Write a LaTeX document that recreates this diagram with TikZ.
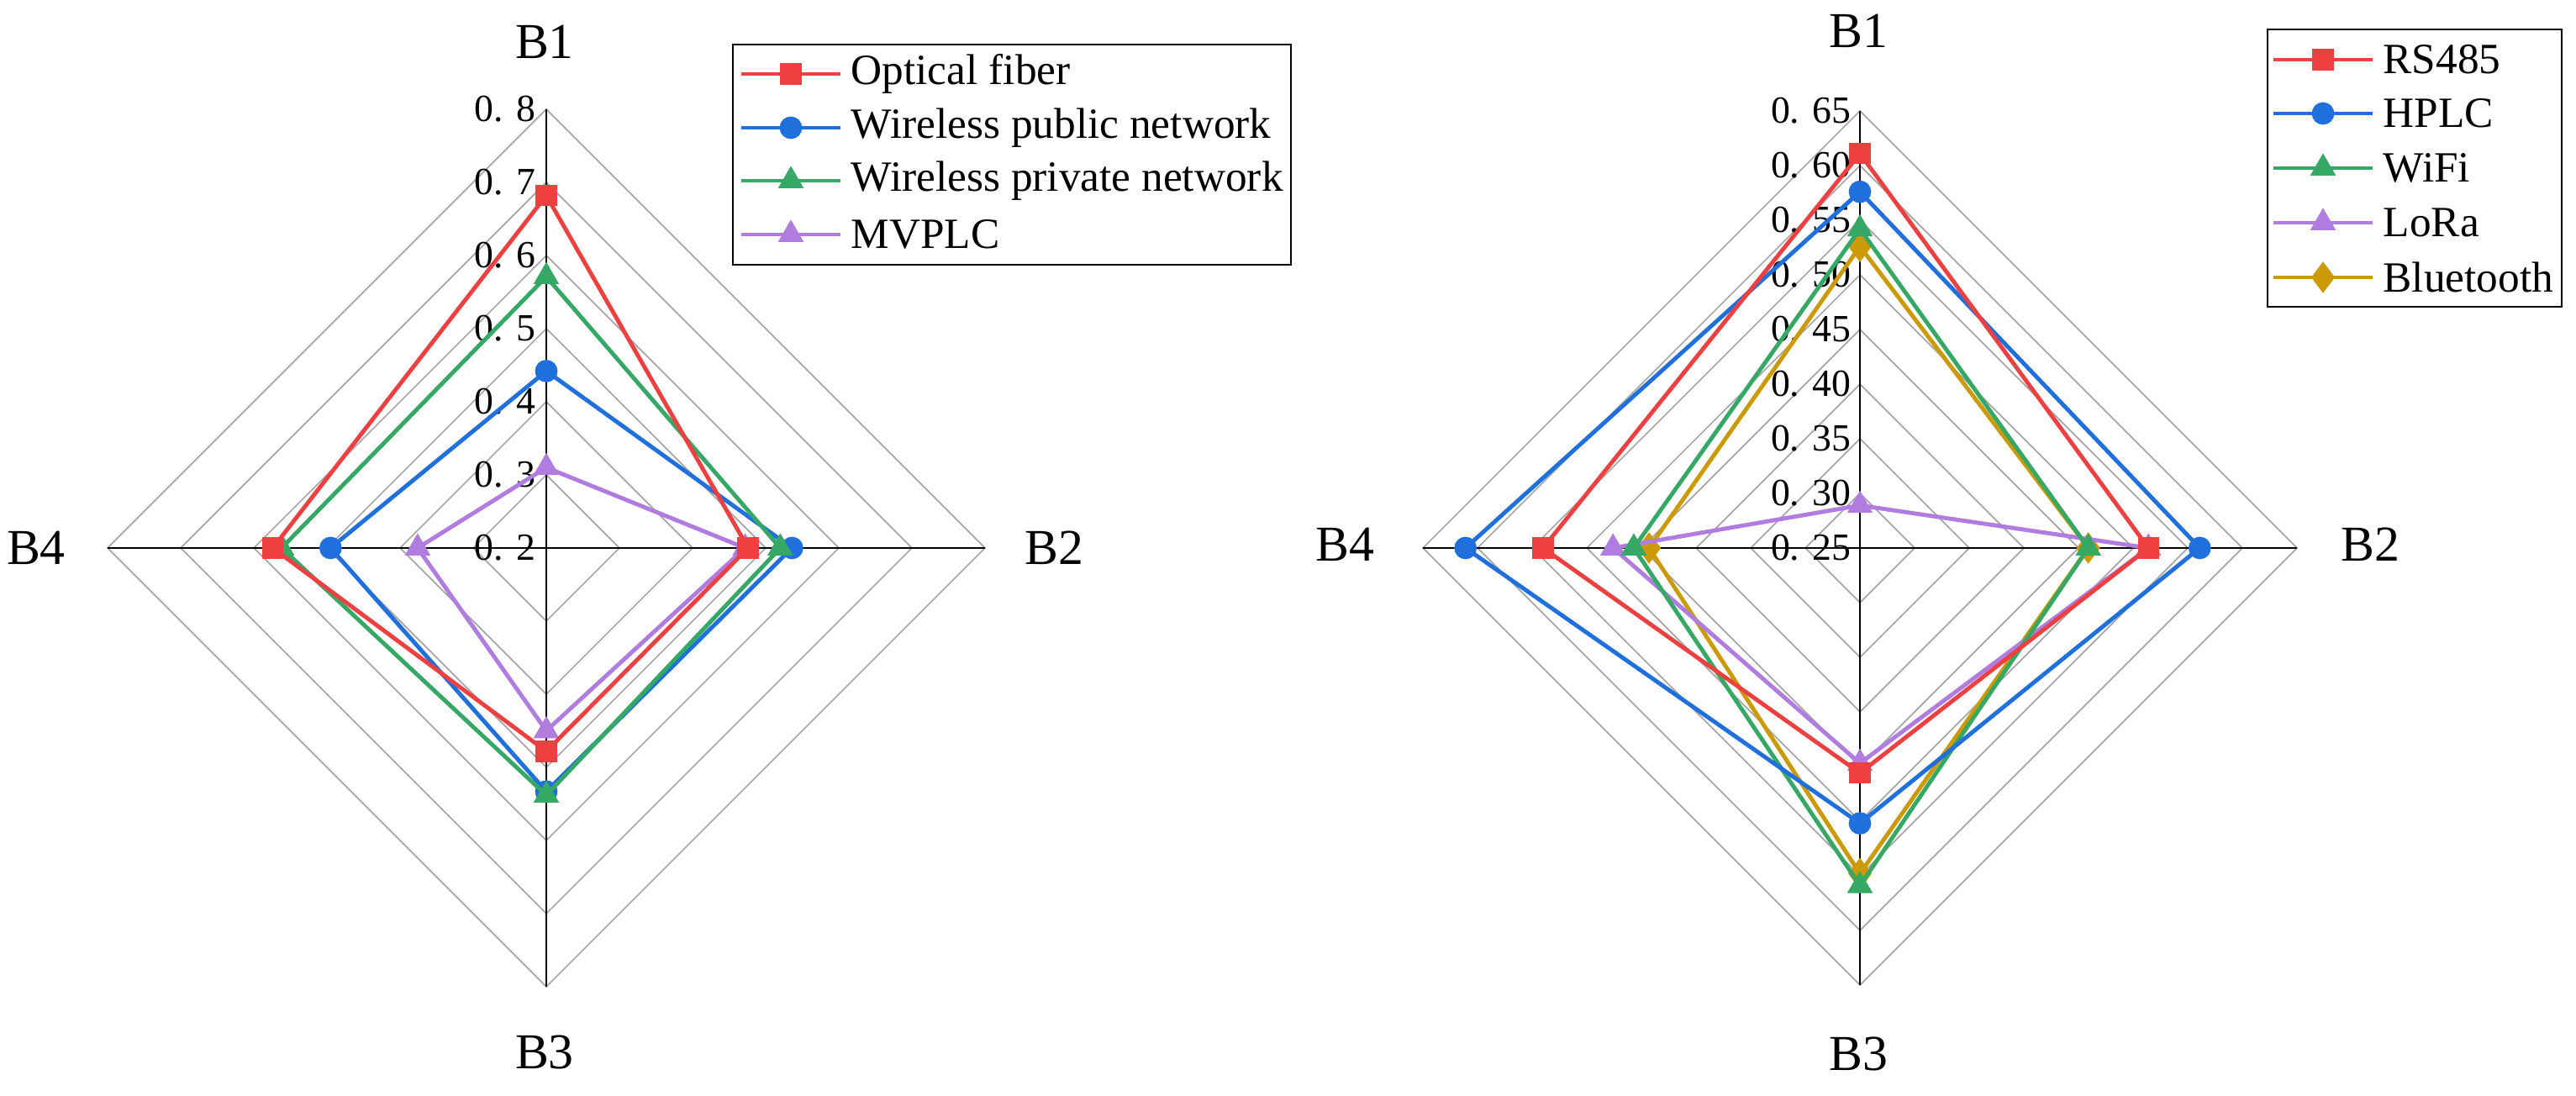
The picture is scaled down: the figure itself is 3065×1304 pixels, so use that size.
\documentclass[tikz,border=0pt]{standalone}
\usepackage{fontspec}
\setmainfont{Liberation Serif}
\usetikzlibrary{plotmarks}
\definecolor{cR}{HTML}{EE4040}
\definecolor{cB}{HTML}{1F6FDC}
\definecolor{cG}{HTML}{35A866}
\definecolor{cP}{HTML}{B07CE0}
\definecolor{cY}{HTML}{CC9A06}
\tikzset{
  grid/.style={gray!70,line width=0.5pt},
  ax/.style={black,line width=0.8pt},
  ser/.style={line width=1.4pt,line join=round},
  blab/.style={font=\fontsize{17}{19}\selectfont},
  tick/.style={font=\fontsize{13}{14}\selectfont,anchor=east,inner sep=0pt},
  leg/.style={font=\fontsize{14.6}{16}\selectfont,anchor=west,inner sep=0pt},
  mSq/.style={mark=square*,mark size=3.4pt},
  mCi/.style={mark=*,mark size=3.6pt},
  mTr/.style={mark=triangle*,mark size=4.6pt},
  mIt/.style={mark=triangle*,mark size=4.6pt,every mark/.append style={rotate=180}},
  mDi/.style={mark=diamond*,mark size=5pt},
}
\newcommand\rdr[6]{%
  \pgfmathsetmacro\ra{(#3-\vmin)/\vrng*\RR}%
  \pgfmathsetmacro\rb{(#4-\vmin)/\vrng*\RR}%
  \pgfmathsetmacro\rc{(#5-\vmin)/\vrng*\RR}%
  \pgfmathsetmacro\rd{(#6-\vmin)/\vrng*\RR}%
  \draw[ser,#1] (\cx,\cy-\ra) -- (\cx+\rb,\cy) -- (\cx,\cy+\rc) -- (\cx-\rd,\cy) -- cycle;
  \path plot[only marks,#2,mark options={#1,fill=#1}] coordinates {(\cx,\cy-\ra) (\cx+\rb,\cy) (\cx,\cy+\rc) (\cx-\rd,\cy)};
}
\newcommand\legentry[5]{% x0 y color markstyle text
  \draw[ser,#3] (#1,#2) -- ++(118,0);
  \path plot[only marks,#4,mark options={#3,fill=#3}] coordinates {(#1+59,#2)};
  \node[leg] at (#1+130,#2) {#5};
}
\begin{document}
\begin{tikzpicture}[x=0.01cm,y=-0.01cm]
\useasboundingbox (0,0) rectangle (3065,1304);
% ---------- left chart
\def\cx{650}\def\cy{652}\def\RR{522}\def\vmin{0.2}\def\vrng{0.6}
\foreach \k in {1,...,6}{
  \pgfmathsetmacro\r{\k*87}
  \draw[grid] (\cx,\cy-\r) -- (\cx+\r,\cy) -- (\cx,\cy+\r) -- (\cx-\r,\cy) -- cycle;}
\draw[ax] (\cx,\cy-\RR) -- (\cx,\cy+\RR);
\draw[ax] (\cx-\RR,\cy) -- (\cx+\RR,\cy);
\foreach \k/\t in {0/0. 2,1/0. 3,2/0. 4,3/0. 5,4/0. 6,5/0. 7,6/0. 8}
  \node[tick] at (\cx-12,\cy-\k*87) {\t};
\node[blab] (lb1) at (648,50) {B1};
\node[blab] (lb2) at (1254,652) {B2};
\node[blab] (lb3) at (648,1252) {B3};
\node[blab] (lb4) at (43,652) {B4};
\rdr{cP}{mIt}{0.31}{0.472}{0.45}{0.376}
\rdr{cB}{mCi}{0.442}{0.536}{0.533}{0.495}
\rdr{cG}{mTr}{0.571}{0.52}{0.538}{0.562}
\rdr{cR}{mSq}{0.682}{0.476}{0.478}{0.574}
\draw[line width=0.6pt,fill=white] (872,53) rectangle (1536,315);
\legentry{882}{88}{cR}{mSq}{Optical fiber}
\legentry{882}{152}{cB}{mCi}{Wireless public network}
\legentry{882}{215}{cG}{mTr}{Wireless private network}
\legentry{882}{279}{cP}{mIt}{MVPLC}
% ---------- right chart
\def\cx{2213}\def\cy{652}\def\RR{520}\def\vmin{0.25}\def\vrng{0.4}
\foreach \k in {1,...,8}{
  \pgfmathsetmacro\r{\k*65}
  \draw[grid] (\cx,\cy-\r) -- (\cx+\r,\cy) -- (\cx,\cy+\r) -- (\cx-\r,\cy) -- cycle;}
\draw[ax] (\cx,\cy-\RR) -- (\cx,\cy+\RR);
\draw[ax] (\cx-\RR,\cy) -- (\cx+\RR,\cy);
\foreach \k/\t in {0/0. 25,1/0. 30,2/0. 35,3/0. 40,4/0. 45,5/0. 50,6/0. 55,7/0. 60,8/0. 65}
  \node[tick] at (\cx-10,\cy-\k*65) {\t};
\node[blab] (rb1) at (2211,37) {B1};
\node[blab] (rb2) at (2820,648) {B2};
\node[blab] (rb3) at (2211,1254) {B3};
\node[blab] (rb4) at (1600,648) {B4};
\rdr{cY}{mDi}{0.526}{0.459}{0.548}{0.443}
\rdr{cP}{mIt}{0.289}{0.514}{0.447}{0.476}
\rdr{cG}{mTr}{0.542}{0.459}{0.559}{0.457}
\rdr{cB}{mCi}{0.576}{0.561}{0.502}{0.611}
\rdr{cR}{mSq}{0.611}{0.514}{0.456}{0.54}
\draw[line width=0.6pt,fill=white] (2698,35) rectangle (3048,365);
\legentry{2705}{71}{cR}{mSq}{RS485}
\legentry{2705}{135}{cB}{mCi}{HPLC}
\legentry{2705}{200}{cG}{mTr}{WiFi}
\legentry{2705}{265}{cP}{mIt}{LoRa}
\legentry{2705}{330}{cY}{mDi}{Bluetooth}
\end{tikzpicture}
\end{document}
